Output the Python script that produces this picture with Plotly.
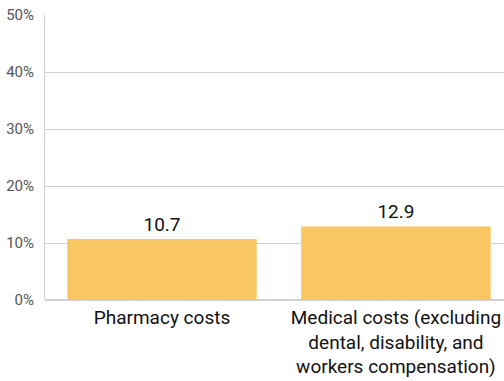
import plotly.graph_objects as go

categories = ["Pharmacy costs",
              "Medical costs (excluding<br>dental, disability, and<br>workers compensation)"]
values = [10.7, 12.9]
y_ticks = [0, 10, 20, 30, 40, 50]
y_tick_labels = ["0%", "10%", "20%", "30%", "40%", "50%"]

fig = go.Figure(go.Bar(
    x=[0, 1],
    y=values,
    marker=dict(color="#F8C763", line=dict(width=0)),
    text=[f"{v:.1f}" for v in values],
    textposition="outside",
    textfont=dict(size=19, color="#111111", family="Roboto"),
    cliponaxis=False,
    width=0.81,
))

fig.update_layout(
    width=504, height=381,
    margin=dict(l=45, r=0, t=15, b=81),
    paper_bgcolor="white", plot_bgcolor="white",
    showlegend=False,
    font=dict(family="Roboto"),
    xaxis=dict(
        range=[-0.5, 1.462],
        tickvals=[0, 1], ticktext=categories,
        tickfont=dict(size=19, color="#111111"),
        showgrid=False, zeroline=False, showline=False,
        ticks="", fixedrange=True, ticklabelstandoff=4,
    ),
    yaxis=dict(
        range=[0, 50],
        tickvals=y_ticks, ticktext=y_tick_labels,
        tickfont=dict(size=15, color="#555555"),
        showgrid=True, gridcolor="#D0D0D0", gridwidth=1,
        zeroline=True, zerolinecolor="#D0D0D0",
        showline=True, linecolor="#D0D0D0", linewidth=1,
        ticks="", ticklabelstandoff=7,
    ),
)

fig.write_html("out.html")
